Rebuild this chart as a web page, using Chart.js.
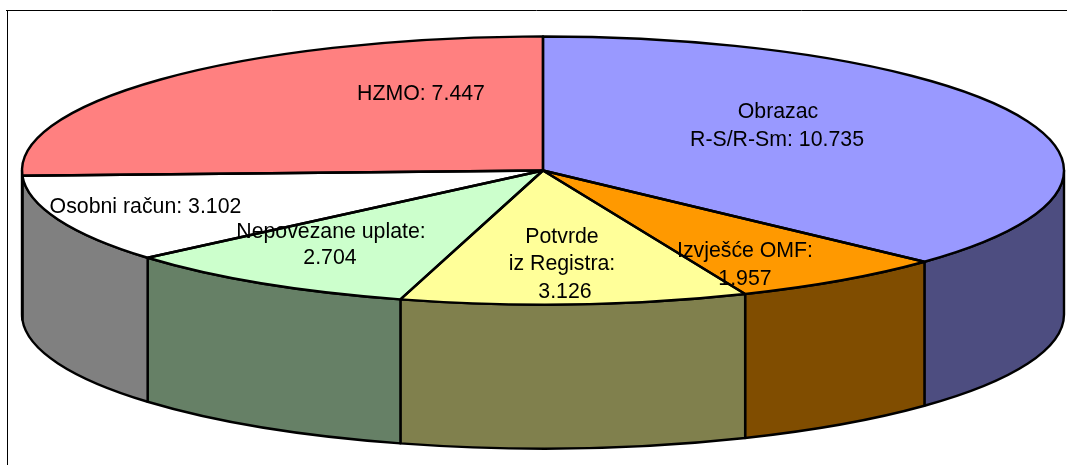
<!DOCTYPE html>
<html>
<head>
<meta charset="utf-8">
<title>Pie</title>
<style>html,body{margin:0;padding:0;background:#fff;overflow:hidden}canvas{display:block}</style>
<script src="https://cdn.jsdelivr.net/npm/chart.js@4"></script>
</head>
<body>
<canvas id="c" width="1067" height="465"></canvas>
<script>
const categories = ["Obrazac R-S/R-Sm", "Izvješće OMF", "Potvrde iz Registra", "Nepovezane uplate", "Osobni račun", "HZMO"];
const values = [10735, 1957, 3126, 2704, 3102, 7447];
const topColors = ["#9999FF", "#FF9900", "#FFFF99", "#CCFFCC", "#FFFFFF", "#FF8080"];
const wallColors = ["#4D4D80", "#804D00", "#80804D", "#668066", "#808080", "#804040"];
const labelLines = [
  ["Obrazac", "R-S/R-Sm: 10.735"],
  ["Izvješće OMF:", "1.957"],
  ["Potvrde", "iz Registra:", "3.126"],
  ["Nepovezane uplate:", "2.704"],
  ["Osobni račun: 3.102"],
  ["HZMO: 7.447"]
];
const labelAnchors = [
  [[778,112],[777,140]],
  [[745,251],[745,279]],
  [[562,237],[562,264],[565,292]],
  [[331,232],[330,258]],
  [[145.5,207]],
  [[421,94]]
];
const view = {cx:543, cy:170.5, rx:521, ry:134, depth:144, line:2.4};
const frame = {x:7.5, y:10.5};

const pie3d = {
  id:"pie3d",
  beforeDatasetsDraw(chart){
    const ctx = chart.ctx, {cx,cy,rx,ry,depth,line} = view;
    ctx.save();
    ctx.fillStyle = "#000";
    ctx.strokeStyle = "#000"; ctx.lineWidth = 1;
    ctx.beginPath();
    ctx.moveTo(6, frame.y); ctx.lineTo(chart.width, frame.y);
    ctx.moveTo(frame.x, frame.y); ctx.lineTo(frame.x, chart.height);
    ctx.stroke();
    ctx.lineWidth = line; ctx.lineJoin = "round";
    chart.getDatasetMeta(0).data.forEach((arc,i)=>{
      const a = Math.max(arc.startAngle, 0), b = Math.min(arc.endAngle, Math.PI);
      if (b <= a) return;
      ctx.beginPath();
      ctx.ellipse(cx, cy, rx, ry, 0, a, b);
      ctx.ellipse(cx, cy+depth, rx, ry, 0, b, a, true);
      ctx.closePath();
      ctx.fillStyle = wallColors[i];
      ctx.fill();
      ctx.stroke();
    });
    ctx.restore();
  },
  beforeDatasetDraw(chart){
    const ctx = chart.ctx, arc = chart.getDatasetMeta(0).data[0], {cx,cy,rx,ry} = view;
    ctx.save();
    ctx.translate(cx, cy);
    ctx.scale(rx/arc.outerRadius, ry/arc.outerRadius);
    ctx.translate(-arc.x, -arc.y);
  },
  afterDatasetDraw(chart){ chart.ctx.restore(); },
  afterDatasetsDraw(chart){
    const ctx = chart.ctx, {cx,cy,rx,ry,line} = view;
    ctx.save();
    ctx.strokeStyle = "#000"; ctx.lineWidth = line; ctx.lineJoin = "round";
    chart.getDatasetMeta(0).data.forEach(arc=>{
      ctx.beginPath();
      ctx.moveTo(cx, cy);
      ctx.ellipse(cx, cy, rx, ry, 0, arc.startAngle, arc.endAngle);
      ctx.closePath();
      ctx.stroke();
    });
    ctx.fillStyle = "#000";
    ctx.font = "21.3px 'Liberation Sans', Arial, sans-serif";
    ctx.textAlign = "center"; ctx.textBaseline = "middle";
    labelLines.forEach((lines,i)=>lines.forEach((t,j)=>{
      ctx.fillText(t, labelAnchors[i][j][0], labelAnchors[i][j][1]);
    }));
    ctx.restore();
  }
};

new Chart(document.getElementById("c"), {
  type:"pie",
  data:{labels:categories, datasets:[{data:values, backgroundColor:topColors, borderWidth:0, clip:false}]},
  options:{
    responsive:false, animation:false, events:[],
    layout:{padding:0},
    plugins:{legend:{display:false}, title:{display:false}, tooltip:{enabled:false}}
  },
  plugins:[pie3d]
});
</script>
</body>
</html>
